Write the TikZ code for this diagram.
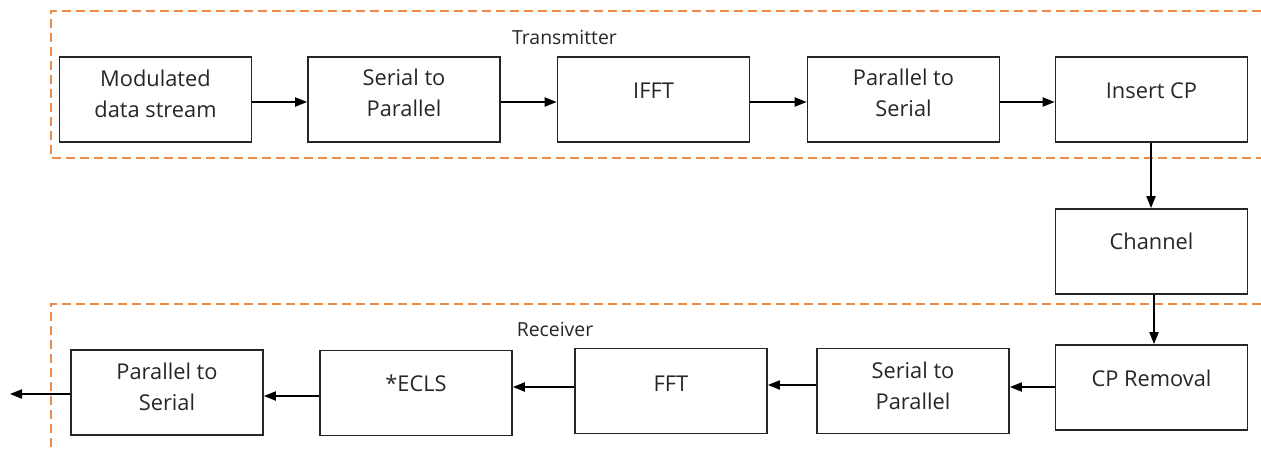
\documentclass[tikz,border=0pt]{standalone}
\usepackage{fontspec}
\setmainfont{Open Sans}
\usetikzlibrary{arrows.meta}
\definecolor{ink}{HTML}{262626}
\definecolor{zone}{HTML}{F08A4B}
\tikzset{
  box/.style={draw=ink, line width=0.9pt, minimum width=96pt, minimum height=42.5pt, inner sep=0pt},
  txt/.style={text=ink, font=\fontsize{10.9}{15.25}\selectfont, align=center, inner sep=0pt},
  zonetitle/.style={text=ink, font=\fontsize{9.7}{12}\selectfont, inner sep=0pt, anchor=base},
  arr/.style={draw=black, line width=0.75pt, -{Triangle[length=6pt,width=4.6pt]}},
  zoneline/.style={draw=zone, line width=0.8pt, dash pattern=on 4.5pt off 2.5pt}
}
\begin{document}
\begin{tikzpicture}[x=0.5pt, y=-0.5pt]
\useasboundingbox (0,0) rectangle (1261,451);

% transmitter and receiver zones
\draw[zoneline] (1261,11) -- (51,11) -- (51,158) -- (1261,158);
\draw[zoneline] (1261,304) -- (51,304) -- (51,451);
\node[zonetitle] (tx) at (564.5,44) {Transmitter};
\node[zonetitle] (rx) at (555,336) {Receiver};

% transmitter chain
\node[box, label={[txt,yshift=2.75pt]center:Modulated\\data stream}] (mod) at (155.5,99.5) {};
\node[box, label={[txt,yshift=3.25pt]center:Serial to\\Parallel}] (sp1) at (404,99.5) {};
\node[box, label={[txt,yshift=4.5pt]center:IFFT}] (ifft) at (653.5,99.5) {};
\node[box, label={[txt,yshift=3.25pt]center:Parallel to\\Serial}] (ps1) at (903.5,99.5) {};
\node[box, label={[txt,yshift=4.5pt]center:Insert CP}] (icp) at (1151.5,99.5) {};

% channel
\node[box, label={[txt,yshift=5pt]center:Channel}] (ch) at (1151.5,251.5) {};

% receiver chain
\node[box, label={[txt,yshift=4.5pt]center:CP Removal}] (rcp) at (1151.5,387.5) {};
\node[box, label={[txt,yshift=2.5pt]center:Serial to\\Parallel}] (sp2) at (913,391) {};
\node[box, label={[txt,yshift=3.75pt]center:FFT}] (fft) at (671,391) {};
\node[box, label={[txt,yshift=4.75pt]center:*ECLS}] (ecls) at (416,393) {};
\node[box, label={[txt,yshift=2.75pt]center:Parallel to\\Serial}] (ps2) at (167,392.5) {};
\coordinate (out) at (10,394);

% connectors
\draw[arr] (mod.east |- 0,102) -- (sp1.west |- 0,102);
\draw[arr] (sp1.east |- 0,102) -- (ifft.west |- 0,102);
\draw[arr] (ifft.east |- 0,102) -- (ps1.west |- 0,102);
\draw[arr] (ps1.east |- 0,102) -- (icp.west |- 0,102);
\draw[arr] (icp.south -| 1151,0) -- (ch.north -| 1151,0);
\draw[arr] (ch.south -| 1154,0) -- (rcp.north -| 1154,0);
\draw[arr] (rcp.west |- 0,387) -- (sp2.east |- 0,387);
\draw[arr] (sp2.west |- 0,385) -- (fft.east |- 0,385);
\draw[arr] (fft.west |- 0,387) -- (ecls.east |- 0,387);
\draw[arr] (ecls.west |- 0,396) -- (ps2.east |- 0,396);
\draw[arr] (ps2.west |- out) -- (out);
\end{tikzpicture}
\end{document}
